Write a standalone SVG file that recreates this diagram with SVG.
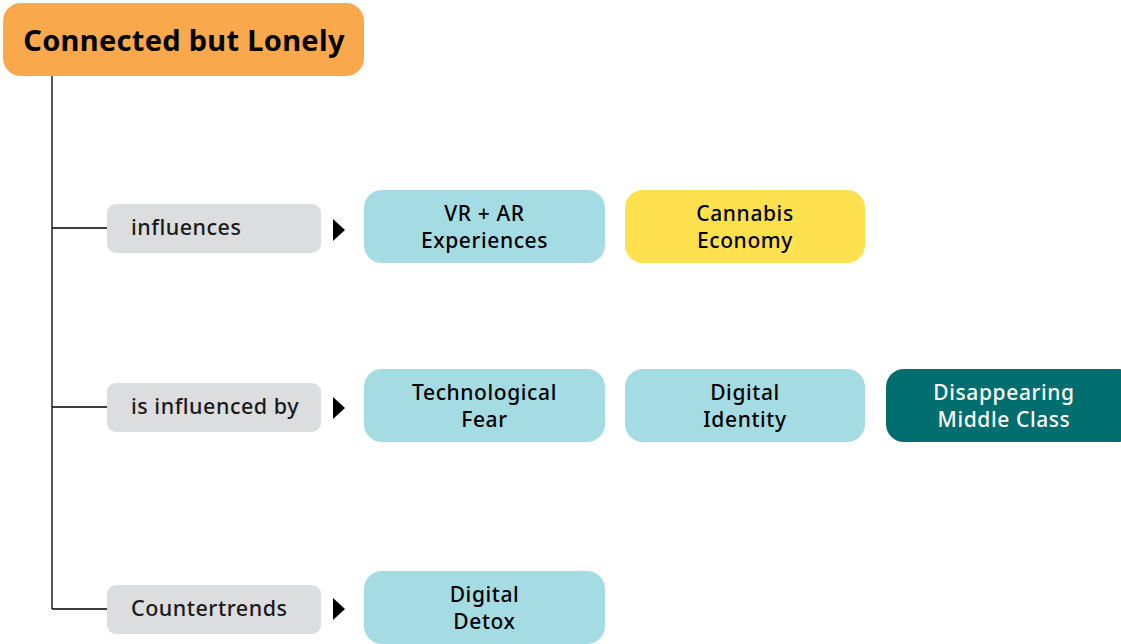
<svg xmlns="http://www.w3.org/2000/svg" width="1121" height="644" viewBox="0 0 1121 644">
<style>
text{font-family:"Noto Sans","Open Sans",sans-serif;}
.title{font-size:29px;font-weight:bold;fill:#000;text-anchor:middle;letter-spacing:0.3px;}
.lab{font-size:21.5px;fill:#1a1a1a;font-weight:500;letter-spacing:0.5px;}
.nt{font-size:21px;fill:#000;text-anchor:middle;font-weight:500;letter-spacing:0.6px;}
.lbox{fill:#DCDDDF;}
.blue{fill:#A5DCE4;}
.yel{fill:#FFE150;}
.dark{fill:#006D6F;}
.conn{stroke:#000;stroke-width:1.3;fill:none;}
.arr{fill:#000;}
</style>
<g id="connectors">
<path class="conn" d="M52 76 V609 M52 228 H108 M52 407 H108 M52 609 H108"/>
<path class="arr" d="M333 219 L345 230 L333 241 Z"/>
<path class="arr" d="M333 397 L345 408 L333 419 Z"/>
<path class="arr" d="M333 598 L345 609 L333 620 Z"/>
</g>
<g id="root">
<rect x="3" y="3" width="361" height="73" rx="18" fill="#F9A94B"/>
<text class="title" x="184" y="51">Connected but Lonely</text>
</g>
<g id="lbl-influences">
<rect class="lbox" x="107" y="204" width="214" height="49" rx="9"/>
<text class="lab" x="131" y="235">influences</text>
</g>
<g id="lbl-influenced">
<rect class="lbox" x="107" y="383" width="214" height="49" rx="9"/>
<text class="lab" x="131" y="414">is influenced by</text>
</g>
<g id="lbl-counter">
<rect class="lbox" x="107" y="585" width="214" height="49" rx="9"/>
<text class="lab" x="131" y="616">Countertrends</text>
</g>
<g id="vrar">
<rect class="blue" x="364" y="190" width="241" height="73" rx="18"/>
<text class="nt" x="484.5" y="221">VR + AR</text>
<text class="nt" x="484.5" y="248">Experiences</text>
</g>
<g id="cannabis">
<rect class="yel" x="625" y="190" width="240" height="73" rx="18"/>
<text class="nt" x="745" y="221">Cannabis</text>
<text class="nt" x="745" y="248">Economy</text>
</g>
<g id="techfear">
<rect class="blue" x="364" y="369" width="241" height="73" rx="18"/>
<text class="nt" x="484.5" y="400">Technological</text>
<text class="nt" x="484.5" y="427">Fear</text>
</g>
<g id="digid">
<rect class="blue" x="625" y="369" width="240" height="73" rx="18"/>
<text class="nt" x="745" y="400">Digital</text>
<text class="nt" x="745" y="427">Identity</text>
</g>
<g id="midclass">
<rect class="dark" x="886" y="369" width="250" height="73" rx="18"/>
<text class="nt" x="1004" y="400" style="fill:#fff">Disappearing</text>
<text class="nt" x="1004" y="427" style="fill:#fff">Middle Class</text>
</g>
<g id="detox">
<rect class="blue" x="364" y="571" width="241" height="73" rx="18"/>
<text class="nt" x="484.5" y="602">Digital</text>
<text class="nt" x="484.5" y="629">Detox</text>
</g>
</svg>
